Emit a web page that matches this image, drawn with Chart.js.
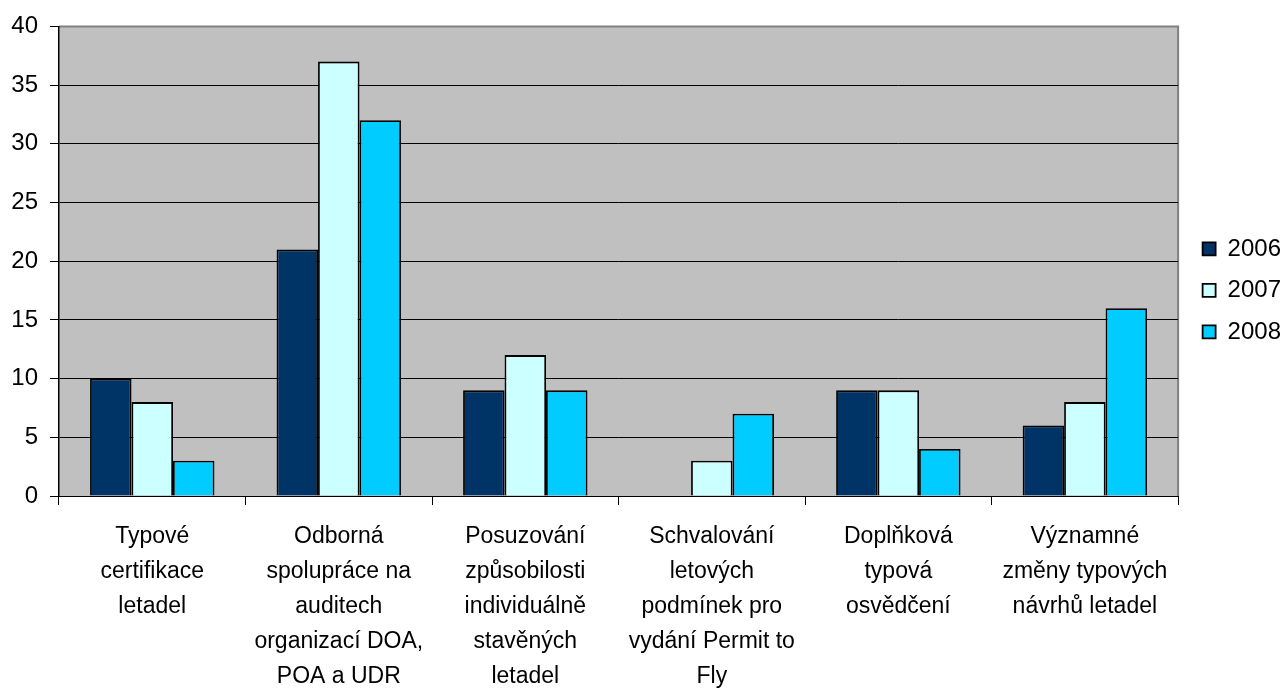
<!DOCTYPE html>
<html>
<head>
<meta charset="utf-8">
<script src="https://cdn.jsdelivr.net/npm/chart.js@4/dist/chart.umd.min.js"></script>
<style>
  html, body { margin: 0; padding: 0; background: #fff; }
  #wrap { width: 1286px; height: 688px; }
</style>
</head>
<body>
<div id="wrap"><canvas id="barChart" width="1286" height="688"></canvas></div>
<script>
let categories = [
    ['Typové', 'certifikace', 'letadel'],
    ['Odborná', 'spolupráce na', 'auditech', 'organizací DOA,', 'POA a UDR'],
    ['Posuzování', 'způsobilosti', 'individuálně', 'stavěných', 'letadel'],
    ['Schvalování', 'letových', 'podmínek pro', 'vydání Permit to', 'Fly'],
    ['Doplňková', 'typová', 'osvědčení'],
    ['Významné', 'změny typových', 'návrhů letadel']
];

let years = ['2006', '2007', '2008'];

let values2006 = [10, 21, 9, 0, 9, 6];
let values2007 = [8, 37, 12, 3, 9, 8];
let values2008 = [3, 32, 9, 7, 4, 16];

let yTicks = [0, 5, 10, 15, 20, 25, 30, 35, 40];

let colors = ['#003366', '#CCFFFF', '#00CCFF'];

const fontFamily = '"Liberation Sans", Arial, sans-serif';

// gray plot area with a thin gray frame on top and right
const plotArea = {
    id: 'plotArea',
    afterLayout(chart) {
        // push the legend a bit away from the plot
        chart.legend.left += 7;
        chart.legend.right += 7;
    },
    beforeDraw(chart) {
        const a = chart.chartArea;
        const c = chart.ctx;
        c.save();
        c.fillStyle = '#C0C0C0';
        c.fillRect(a.left, a.top, a.right - a.left, a.bottom - a.top);
        c.strokeStyle = '#808080';
        c.lineWidth = 2;
        c.beginPath();
        c.moveTo(a.left, a.top);
        c.lineTo(a.right, a.top);
        c.lineTo(a.right, a.bottom);
        c.stroke();
        c.restore();
    }
};

let ctx = document.getElementById('barChart').getContext('2d');
let chart = new Chart(ctx, {
    type: 'bar',
    data: {
        labels: categories,
        datasets: [
            { label: years[0], data: values2006, backgroundColor: colors[0] },
            { label: years[1], data: values2007, backgroundColor: colors[1] },
            { label: years[2], data: values2008, backgroundColor: colors[2] }
        ].map(ds => Object.assign(ds, {
            borderColor: '#000',
            borderWidth: 1.8,
            borderSkipped: 'bottom',
            barPercentage: 1,
            categoryPercentage: 0.667
        }))
    },
    options: {
        responsive: false,
        animation: false,
        layout: { padding: { top: 12, right: 2, bottom: 0, left: 0 } },
        plugins: {
            tooltip: { enabled: false },
            legend: {
                position: 'right',
                align: 'start',
                title: { display: true, text: ' ', padding: { top: 205, bottom: 0 }, font: { size: 2 } },
                labels: {
                    boxWidth: 13,
                    boxHeight: 13,
                    padding: 17.5,
                    color: '#000',
                    font: { family: fontFamily, size: 24, lineHeight: 1 }
                }
            }
        },
        scales: {
            x: {
                offset: true,
                grid: {
                    offset: true,
                    drawOnChartArea: false,
                    drawTicks: true,
                    tickLength: 9,
                    color: '#000'
                },
                border: { display: true, color: '#000', width: 1 },
                ticks: {
                    maxRotation: 0,
                    autoSkip: false,
                    padding: 14,
                    color: '#000',
                    font: { family: fontFamily, size: 23, lineHeight: '35px' }
                },
                afterFit(scale) { scale.height = 192; }
            },
            y: {
                min: 0,
                max: 40,
                afterBuildTicks(scale) { scale.ticks = yTicks.map(v => ({ value: v })); },
                grid: {
                    color: ctx => ctx.tick && ctx.tick.value === 40 ? '#808080' : '#000',
                    lineWidth: 1,
                    tickLength: 9,
                    tickColor: '#000'
                },
                border: { display: true, color: '#000', width: 1.5 },
                ticks: {
                    padding: 12,
                    color: '#000',
                    font: { family: fontFamily, size: 24 }
                },
                afterFit(scale) { scale.width = 59; }
            }
        }
    },
    plugins: [plotArea]
});
</script>
</body>
</html>
